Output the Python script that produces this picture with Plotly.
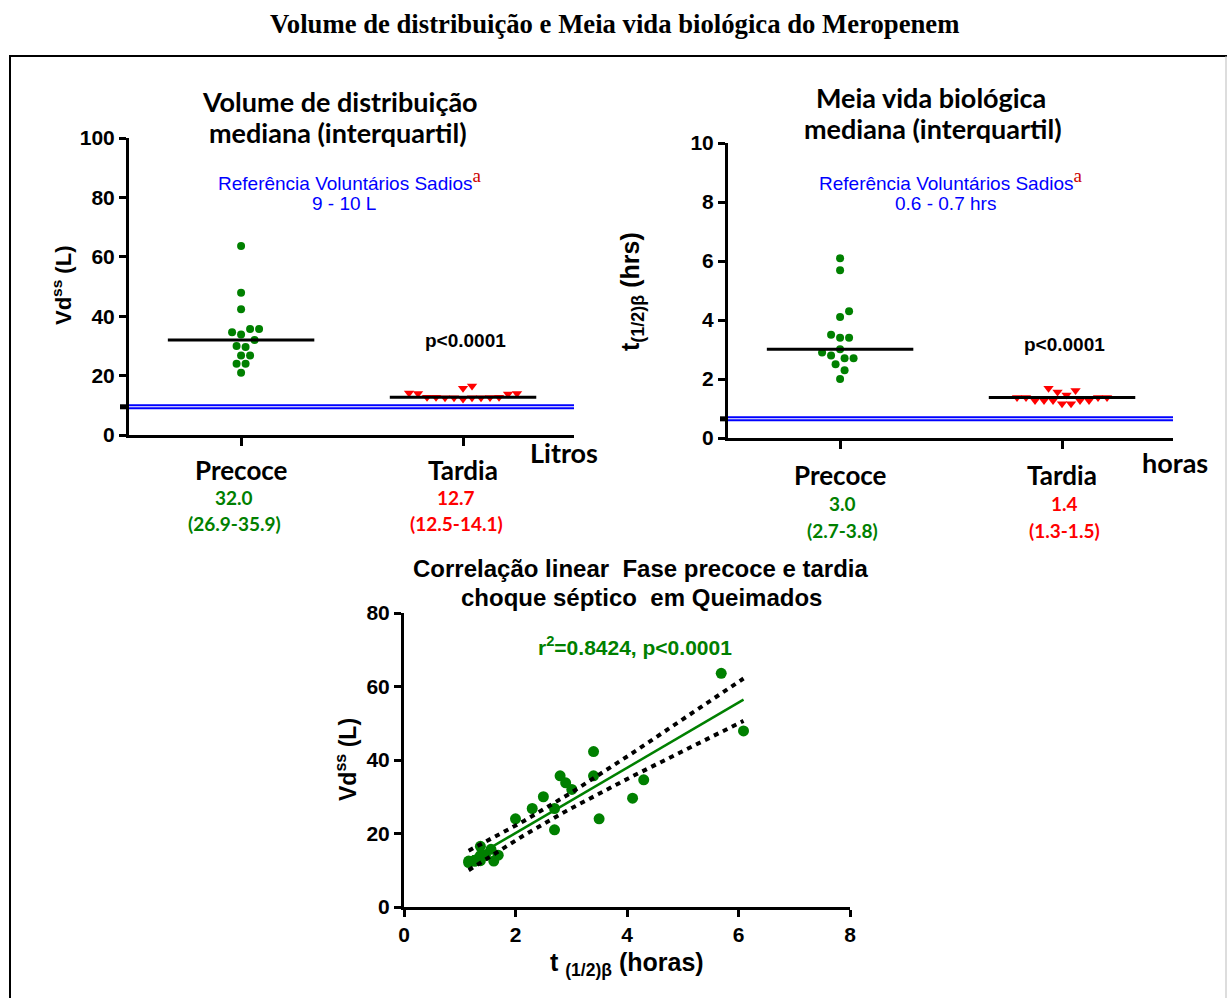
import numpy as np
import plotly.graph_objects as go

# ---------------- data ----------------
categories = ["Precoce", "Tardia"]
# paired per-patient values: half-life (hours) and Vdss (litres)
precoce_t = [5.69, 6.09, 3.40, 2.80, 3.40, 2.90, 3.01, 4.30, 4.10, 2.50, 2.30, 2.70, 2.00, 3.50, 2.70]
precoce_vd = [63.6, 47.9, 42.3, 35.7, 35.7, 33.8, 32.0, 34.6, 29.6, 30.0, 26.8, 26.8, 24.0, 24.0, 21.0]
tardia_t = [1.37, 1.56, 1.69, 1.61, 1.46, 1.37, 1.37, 1.27, 1.27, 1.27, 1.16, 1.16, 1.27, 1.27, 1.37]
tardia_vd = [16.5, 15.7, 14.1, 12.5, 14.0, 14.0, 13.8, 12.7, 12.7, 12.7, 12.1, 12.5, 12.5, 12.5, 12.6]
ref_vd = [9, 10]          # healthy volunteers reference (L)
ref_t = [0.6, 0.7]        # healthy volunteers reference (hrs)
vd_summary = [["32.0", "(26.9-35.9)"], ["12.7", "(12.5-14.1)"]]
t_summary = [["3.0", "(2.7-3.8)"], ["1.4", "(1.3-1.5)"]]
p_label = "p<0.0001"
r2_label = "r<sup>2</sup>=0.8424, p<0.0001"
vd_ticks = [0, 20, 40, 60, 80, 100]
t_ticks = [0, 2, 4, 6, 8, 10]
corr_x_ticks = [0, 2, 4, 6, 8]
corr_y_ticks = [0, 20, 40, 60, 80]

# ---------------- layout helpers ----------------
W, H = 1227, 998
def px(x):
    return x / W
def py(y):
    return 1 - y / H

GREEN = "#008000"
RED = "#FF0000"
BLUE = "#0000FF"
ARIAL = "Liberation Sans"
CAL = "Lato"


def swarm(values, px_per_x, px_per_y, diam=9.0, step=4.5):
    vals = np.asarray(values, dtype=float)
    order = np.argsort(vals, kind="stable")
    placed = []
    offsets = np.zeros(len(vals))
    cands = [0.0]
    for k in range(1, 40):
        cands += [k * step, -k * step]
    for i in order:
        y = vals[i] * px_per_y
        for c in cands:
            if all((c - ox) ** 2 + (y - oy) ** 2 >= diam ** 2 for ox, oy in placed):
                break
        placed.append((c, y))
        offsets[i] = c / px_per_x
    return offsets

fig = go.Figure()

axis_base = dict(showline=True, linecolor="black", linewidth=3, ticks="outside",
                 tickcolor="black", tickwidth=3, ticklen=7, showgrid=False, zeroline=False,
                 automargin=False,
                 tickfont=dict(family=ARIAL, size=21, color="black", weight="bold"),
                 fixedrange=True)

# panel geometry (pixels)
TL = dict(x0=129, x1=574, y0=435, y1=138)
TR = dict(x0=728, x1=1173, y0=438, y1=143)
BT = dict(x0=404, x1=850, y0=907, y1=613)
xr = [-0.505, 1.5]

fig.update_layout(
    template="none",
    xaxis=dict(axis_base, domain=[px(TL["x0"]), px(TL["x1"])], range=xr, tickvals=[0, 1],
               showticklabels=False, ticklen=8, anchor="y"),
    yaxis=dict(axis_base, domain=[py(TL["y0"]), py(TL["y1"])], range=[0, 100], tickvals=vd_ticks,
               anchor="x"),
    xaxis2=dict(axis_base, domain=[px(TR["x0"]), px(TR["x1"])], range=xr, tickvals=[0, 1],
                showticklabels=False, ticklen=8, anchor="y2"),
    yaxis2=dict(axis_base, domain=[py(TR["y0"]), py(TR["y1"])], range=[0, 10], tickvals=t_ticks,
                anchor="x2"),
    xaxis3=dict(axis_base, domain=[px(BT["x0"]), px(BT["x1"])], range=[0, 8], tickvals=corr_x_ticks,
                anchor="y3"),
    yaxis3=dict(axis_base, domain=[py(BT["y0"]), py(BT["y1"])], range=[0, 80], tickvals=corr_y_ticks,
                anchor="x3"),
)

# ---------------- top panels ----------------
ppx_tl = (TL["x1"] - TL["x0"]) / (xr[1] - xr[0])
ppy_tl = (TL["y0"] - TL["y1"]) / 100.0
ppx_tr = (TR["x1"] - TR["x0"]) / (xr[1] - xr[0])
ppy_tr = (TR["y0"] - TR["y1"]) / 10.0

for ref in ref_vd:
    fig.add_trace(go.Scatter(x=xr, y=[ref, ref], mode="lines", line=dict(color=BLUE, width=2),
                             xaxis="x", yaxis="y", hoverinfo="skip"))
for ref in ref_t:
    fig.add_trace(go.Scatter(x=xr, y=[ref, ref], mode="lines", line=dict(color=BLUE, width=2),
                             xaxis="x2", yaxis="y2", hoverinfo="skip"))

groups = [(precoce_vd, precoce_t, "circle", GREEN, 8), (tardia_vd, tardia_t, "triangle-down", RED, 9)]
for ci, (vd, tt, sym, col, sz) in enumerate(groups):
    off = swarm(vd, ppx_tl, ppy_tl)
    fig.add_trace(go.Scatter(x=ci + off, y=vd, mode="markers", xaxis="x", yaxis="y",
                             marker=dict(symbol=sym, color=col, size=sz, line=dict(width=0))))
    m = float(np.median(vd))
    fig.add_trace(go.Scatter(x=[ci - 0.33, ci + 0.33], y=[m, m], mode="lines", xaxis="x", yaxis="y",
                             line=dict(color="black", width=3)))
    off2 = swarm(tt, ppx_tr, ppy_tr)
    fig.add_trace(go.Scatter(x=ci + off2, y=tt, mode="markers", xaxis="x2", yaxis="y2",
                             marker=dict(symbol=sym, color=col, size=sz, line=dict(width=0))))
    m2 = float(np.median(tt))
    fig.add_trace(go.Scatter(x=[ci - 0.33, ci + 0.33], y=[m2, m2], mode="lines", xaxis="x2", yaxis="y2",
                             line=dict(color="black", width=3)))

# ---------------- bottom: correlation ----------------
all_t = np.array(precoce_t + tardia_t)
all_vd = np.array(precoce_vd + tardia_vd)
slope, intercept = np.polyfit(all_t, all_vd, 1)
n = len(all_t)
resid = all_vd - (slope * all_t + intercept)
s = np.sqrt(np.sum(resid ** 2) / (n - 2))
tm = all_t.mean()
sxx = np.sum((all_t - tm) ** 2)
xs = np.linspace(all_t.min(), all_t.max(), 80)
fit = slope * xs + intercept
se = s * np.sqrt(1.0 / n + (xs - tm) ** 2 / sxx)
tcrit = 2.048  # t(0.975, df=28)

fig.add_trace(go.Scatter(x=all_t, y=all_vd, mode="markers", xaxis="x3", yaxis="y3",
                         marker=dict(color=GREEN, size=11, line=dict(width=0))))
fig.add_trace(go.Scatter(x=xs, y=fit, mode="lines", xaxis="x3", yaxis="y3",
                         line=dict(color=GREEN, width=2.5)))
for sign in (1, -1):
    fig.add_trace(go.Scatter(x=xs, y=fit + sign * tcrit * se, mode="lines", xaxis="x3", yaxis="y3",
                             line=dict(color="black", width=4, dash="5px,5px")))

# ---------------- shapes ----------------
shapes = [
    dict(type="line", xref="paper", yref="paper", x0=px(9), x1=1, y0=py(56), y1=py(56),
         line=dict(color="black", width=2)),
    dict(type="line", xref="paper", yref="paper", x0=px(10), x1=px(10), y0=py(56), y1=0,
         line=dict(color="black", width=2)),
    dict(type="line", xref="paper", yref="paper", x0=px(1226), x1=px(1226), y0=py(56), y1=0,
         line=dict(color="#bbbbbb", width=1)),
    # short thick marks on y-axes at the reference level
    dict(type="line", xref="paper", yref="y", x0=px(120), x1=px(129), y0=float(np.mean(ref_vd)),
         y1=float(np.mean(ref_vd)), line=dict(color="black", width=5)),
    dict(type="line", xref="paper", yref="y2", x0=px(720), x1=px(728), y0=float(np.mean(ref_t)),
         y1=float(np.mean(ref_t)), line=dict(color="black", width=5)),
]

# ---------------- annotations ----------------
ann = []
def A(text, x, y, size, color="black", family=ARIAL, weight="normal", angle=0, xref="paper",
      xanchor="center"):
    ann.append(dict(text=text, x=x if xref != "paper" else px(x), y=py(y), xref=xref, yref="paper",
                    showarrow=False, xanchor=xanchor, yanchor="middle", textangle=angle,
                    font=dict(family=family, size=size, color=color, weight=weight)))

A("Volume de distribuição e Meia vida biológica do Meropenem", 614, 24, 26.7,
  family="Liberation Serif", weight="bold")

A("Volume de distribuição", 340, 102, 27, family=CAL, weight="bold")
A("mediana (interquartil)", 338, 133, 27, family=CAL, weight="bold")
A("Meia vida biológica", 931, 97, 27, family=CAL, weight="bold")
A("mediana (interquartil)", 933, 129, 27, family=CAL, weight="bold")

sup_a = ("<sup><span style='color:#CC0000;font-family:Liberation Serif;font-size:19px'>a</span></sup>")
A("Referência Voluntários Sadios" + sup_a, 350, 179, 19, color=BLUE)
A("%g - %g L" % tuple(ref_vd), 344, 203, 19, color=BLUE)
A("Referência Voluntários Sadios" + sup_a, 951, 180, 19, color=BLUE)
A("%g - %g hrs" % tuple(ref_t), 945, 204, 19, color=BLUE)

A(p_label, 465, 341, 19, weight="bold")
A(p_label, 1064, 345, 19, weight="bold")

A("Vd<sup>ss</sup> (L)", 62, 285, 22, weight="bold", angle=-90)
A("t<sub><span style='font-size:18px'>(1/2)β</span></sub> (hrs)", 632, 292, 25, weight="bold", angle=-90)

cat_cols = [GREEN, RED]
for ci, cat in enumerate(categories):
    ann.append(dict(text=cat, x=ci, y=py(470), xref="x", yref="paper", showarrow=False,
                    font=dict(family=CAL, size=26, color="black", weight="bold")))
    ann.append(dict(text=cat, x=ci, y=py(475), xref="x2", yref="paper", showarrow=False,
                    font=dict(family=CAL, size=26, color="black", weight="bold")))
    for li, txt in enumerate(vd_summary[ci]):
        ann.append(dict(text=txt, x=ci - 0.03, y=py(497 + 26 * li), xref="x", yref="paper",
                        showarrow=False, font=dict(family=CAL, size=19, color=cat_cols[ci], weight="bold")))
    for li, txt in enumerate(t_summary[ci]):
        ann.append(dict(text=txt, x=ci + 0.01, y=py(503 + 27 * li), xref="x2", yref="paper",
                        showarrow=False, font=dict(family=CAL, size=19, color=cat_cols[ci], weight="bold")))

A("Litros", 564, 452, 27, family=CAL, weight="bold")
A("horas", 1175, 462, 27, family=CAL, weight="bold")

A("Correlação linear  Fase precoce e tardia", 641, 568, 24, weight="bold")
A("choque séptico  em Queimados", 641, 597, 24, weight="bold")
A(r2_label, 635, 646, 21, color=GREEN, weight="bold")
A("Vd<sup>ss</sup> (L)", 346, 760, 23, weight="bold", angle=-90)
A("t <sub>(1/2)β</sub> (horas)", 627, 964, 25, weight="bold")

fig.update_layout(width=W, height=H, margin=dict(l=0, r=0, t=0, b=0, autoexpand=False),
                  paper_bgcolor="white", plot_bgcolor="rgba(0,0,0,0)", showlegend=False,
                  shapes=shapes, annotations=ann, hovermode=False)

fig.write_html("out.html", config={"displayModeBar": False},
               post_script="document.body.style.margin='0';document.body.style.overflow='hidden';")
